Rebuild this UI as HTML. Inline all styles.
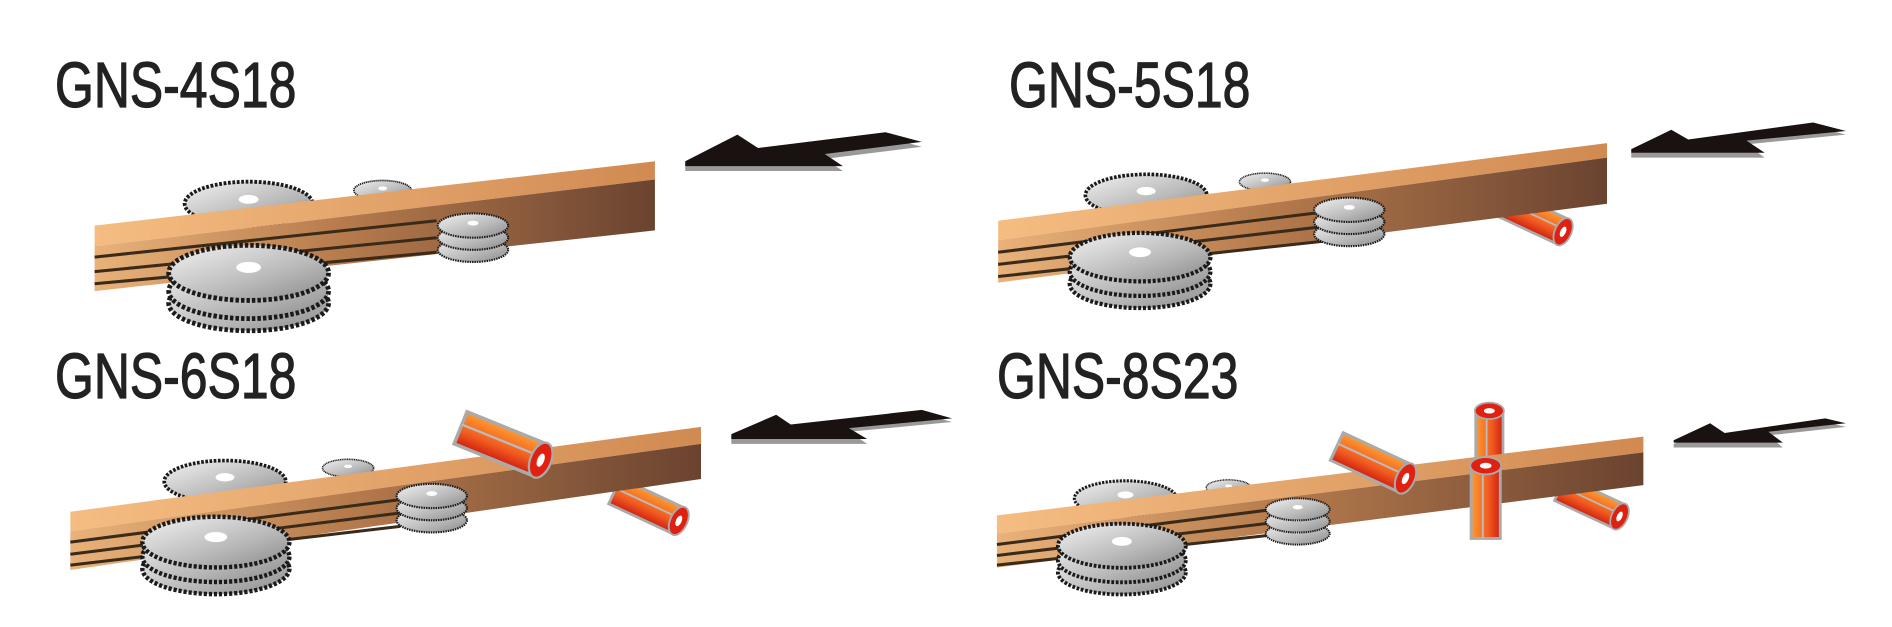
<!DOCTYPE html>
<html><head><meta charset="utf-8"><style>
html,body{margin:0;padding:0;background:#fff;}
body{width:1892px;height:627px;position:relative;overflow:hidden;}
.t{position:absolute;font-family:"Liberation Sans",sans-serif;font-size:64px;line-height:64px;color:#222;transform:scaleX(0.78);transform-origin:0 0;white-space:nowrap;-webkit-text-stroke:1.2px #222;}
svg{position:absolute;left:0;top:0;}
</style></head><body>
<svg width="1892" height="627" viewBox="0 0 1560 517" preserveAspectRatio="none">
<defs>
<linearGradient id="disk" x1="0" y1="0" x2="1" y2="1"><stop offset="0" stop-color="#f2f2f2"/><stop offset="0.6" stop-color="#b8b8b8"/><stop offset="1" stop-color="#8a8a8a"/></linearGradient>
<linearGradient id="top" x1="0" y1="0" x2="1" y2="0"><stop offset="0" stop-color="#f5bd82"/><stop offset="1" stop-color="#d08a52"/></linearGradient>
<linearGradient id="front" x1="0" y1="0" x2="1" y2="0"><stop offset="0" stop-color="#e9b27a"/><stop offset="0.45" stop-color="#b57a4c"/><stop offset="1" stop-color="#6a4330"/></linearGradient>
<linearGradient id="cut" x1="0" y1="0" x2="0" y2="1"><stop offset="0" stop-color="#ff9a30"/><stop offset="0.6" stop-color="#f05a20"/><stop offset="1" stop-color="#d02010"/></linearGradient>
<symbol id="d" viewBox="-60 -22 120 44" overflow="visible">
<ellipse cx="0" cy="0" rx="58" ry="20" fill="url(#disk)" stroke="#1a1a1a" stroke-width="3.5" stroke-dasharray="2.5 1.5"/>
<ellipse cx="0" cy="-4" rx="9" ry="4" fill="#fff"/>
</symbol>
<symbol id="c" viewBox="-45 -20 90 40" overflow="visible">
<rect x="-40" y="-15" width="75" height="30" fill="url(#cut)" stroke="#aaa" stroke-width="3"/>
<line x1="-40" y1="-3" x2="35" y2="-3" stroke="#bbb" stroke-width="2"/>
<ellipse cx="35" cy="0" rx="9" ry="16" fill="#e02010" stroke="#aaa" stroke-width="2"/>
<ellipse cx="35" cy="0" rx="3" ry="6" fill="#fff"/>
</symbol>
</defs>

<!-- Panel 1 -->
<use href="#d" x="150" y="148" width="110" height="40"/>
<use href="#d" x="288" y="148" width="55" height="18"/>
<polygon points="78,186 540,133 540,148 78,203" fill="url(#top)"/>
<polygon points="78,203 540,148 540,190 78,240" fill="url(#front)"/>
<polyline points="78,212 360,182" stroke="#3a2a1a" stroke-width="2.5" fill="none"/>
<polyline points="78,224 360,196" stroke="#3a2a1a" stroke-width="2.5" fill="none"/>
<polyline points="78,234 360,208" stroke="#3a2a1a" stroke-width="2.5" fill="none"/>
<use href="#d" x="355" y="195" width="70" height="22"/>
<use href="#d" x="355" y="185" width="70" height="22"/>
<use href="#d" x="355" y="175" width="70" height="22"/>
<use href="#d" x="133" y="225" width="144" height="50"/>
<use href="#d" x="133" y="215" width="144" height="50"/>
<use href="#d" x="133" y="200" width="144" height="50"/>
<polygon points="565,136 608,115 625,126 730,113 760,121 680,131 695,141 565,141" fill="#999"/>
<polygon points="565,133 608,111 625,122 730,109 760,117 680,127 695,137 565,137" fill="#1a1210"/>

<!-- Panel 2 -->
<use href="#d" x="890" y="142" width="110" height="38"/>
<use href="#d" x="1018" y="142" width="50" height="16"/>
<use href="#c" x="1230" y="165" width="70" height="30" transform="rotate(25 1265 180)"/>
<polygon points="823,182 1325,118 1325,130 823,198" fill="url(#top)"/>
<polygon points="823,198 1325,130 1325,168 823,233" fill="url(#front)"/>
<polyline points="823,208 1090,175" stroke="#3a2a1a" stroke-width="2.5" fill="none"/>
<polyline points="823,218 1090,187" stroke="#3a2a1a" stroke-width="2.5" fill="none"/>
<polyline points="823,228 1090,199" stroke="#3a2a1a" stroke-width="2.5" fill="none"/>
<use href="#d" x="1080" y="182" width="65" height="22"/>
<use href="#d" x="1080" y="172" width="65" height="22"/>
<use href="#d" x="1080" y="162" width="65" height="22"/>
<use href="#d" x="875" y="212" width="130" height="44"/>
<use href="#d" x="875" y="202" width="130" height="44"/>
<use href="#d" x="875" y="190" width="130" height="44"/>
<polygon points="1345,126 1378,110 1392,118 1495,104 1522,111 1440,119 1455,130 1345,130" fill="#999"/>
<polygon points="1345,123 1378,107 1392,115 1495,101 1522,108 1440,116 1455,126 1345,126" fill="#1a1210"/>

<!-- Panel 3 -->
<use href="#d" x="128" y="378" width="115" height="38"/>
<use href="#d" x="262" y="378" width="50" height="16"/>
<use href="#c" x="500" y="402" width="70" height="32" transform="rotate(25 535 418)"/>
<polygon points="58,422 578,352 578,366 58,438" fill="url(#top)"/>
<polygon points="58,438 578,366 578,395 58,470" fill="url(#front)"/>
<polyline points="58,447 330,412" stroke="#3a2a1a" stroke-width="2.5" fill="none"/>
<polyline points="58,457 330,423" stroke="#3a2a1a" stroke-width="2.5" fill="none"/>
<polyline points="58,466 330,434" stroke="#3a2a1a" stroke-width="2.5" fill="none"/>
<use href="#c" x="370" y="348" width="90" height="38" transform="rotate(22 415 367)"/>
<use href="#d" x="322" y="418" width="68" height="22"/>
<use href="#d" x="322" y="408" width="68" height="22"/>
<use href="#d" x="322" y="398" width="68" height="22"/>
<use href="#d" x="108" y="446" width="140" height="46"/>
<use href="#d" x="108" y="436" width="140" height="46"/>
<use href="#d" x="108" y="424" width="140" height="46"/>
<polygon points="603,361 640,345 652,353 760,341 785,348 700,356 715,366 603,366" fill="#999"/>
<polygon points="603,358 640,342 652,350 760,338 785,345 700,353 715,362 603,362" fill="#1a1210"/>

<!-- Panel 4 -->
<use href="#d" x="878" y="395" width="100" height="32"/>
<use href="#d" x="988" y="395" width="50" height="14"/>
<use href="#c" x="1280" y="400" width="65" height="30" transform="rotate(25 1312 415)"/>
<g transform="translate(1228 360) rotate(-90)"><use href="#c" x="-40" y="-15" width="70" height="30"/></g>
<polygon points="822,425 1355,360 1355,373 822,440" fill="url(#top)"/>
<polygon points="822,440 1355,373 1355,400 822,468" fill="url(#front)"/>
<polyline points="822,449 1050,420" stroke="#3a2a1a" stroke-width="2.5" fill="none"/>
<polyline points="822,458 1050,431" stroke="#3a2a1a" stroke-width="2.5" fill="none"/>
<polyline points="822,466 1050,441" stroke="#3a2a1a" stroke-width="2.5" fill="none"/>
<use href="#c" x="1095" y="365" width="75" height="34" transform="rotate(25 1132 382)"/>
<g transform="translate(1224 412) rotate(-90)"><use href="#c" x="-40" y="-15" width="80" height="32"/></g>
<use href="#d" x="1040" y="430" width="60" height="20"/>
<use href="#d" x="1040" y="420" width="60" height="20"/>
<use href="#d" x="1040" y="410" width="60" height="20"/>
<use href="#d" x="865" y="452" width="120" height="40"/>
<use href="#d" x="865" y="442" width="120" height="40"/>
<use href="#d" x="865" y="430" width="120" height="40"/>
<polygon points="1380,366 1410,352 1422,360 1505,348 1522,352 1458,359 1470,369 1380,369" fill="#999"/>
<polygon points="1380,363 1410,349 1422,357 1505,345 1522,349 1458,356 1470,365 1380,365" fill="#1a1210"/>
</svg>
<div class="t" style="left:55px;top:53px;">GNS-4S18</div>
<div class="t" style="left:1009px;top:53px;">GNS-5S18</div>
<div class="t" style="left:55px;top:344px;">GNS-6S18</div>
<div class="t" style="left:997px;top:344px;">GNS-8S23</div>
</body></html>
